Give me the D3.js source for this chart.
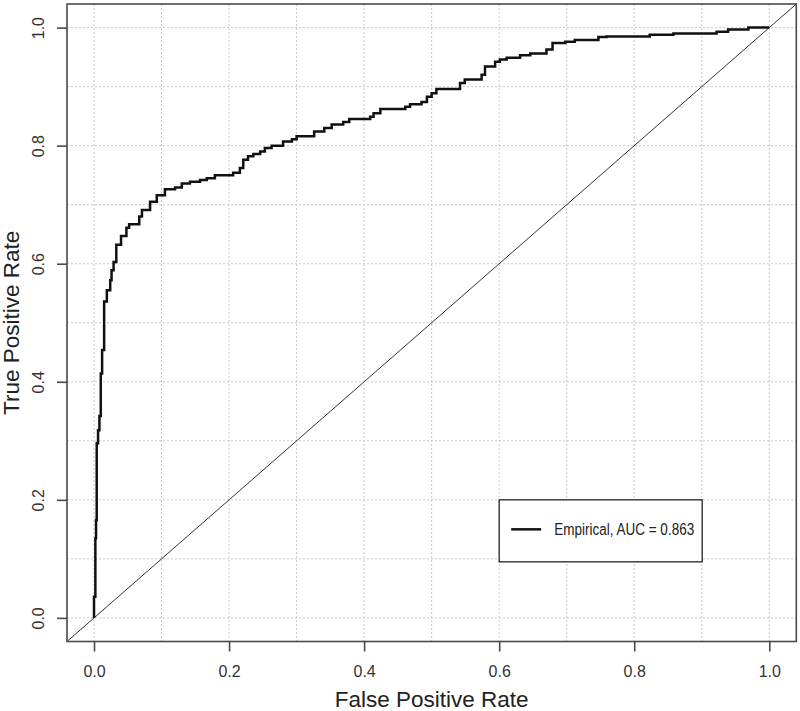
<!DOCTYPE html>
<html lang="en">
<head>
  <meta charset="UTF-8">
  <title>ROC curve</title>
  <script src="https://d3js.org/d3.v7.min.js"></script>
  <style>
    body { margin: 0; background: #fff; }
    text { font-family: "Liberation Sans", Arial, Helvetica, sans-serif; }
  </style>
</head>
<body>
<div id="chart"></div>
<script>

// empirical ROC corners: rise at fpr[i] up to tpr[i]
var fpr = [0, 0.000, 0.002, 0.003, 0.004, 0.006, 0.008, 0.010, 0.012, 0.015, 0.019, 0.024, 0.026,
  0.029, 0.033, 0.040, 0.048, 0.052, 0.067, 0.071, 0.083, 0.093, 0.105, 0.120, 0.130, 0.142, 0.157,
  0.167, 0.179, 0.206, 0.216, 0.221, 0.228, 0.236, 0.246, 0.253, 0.263, 0.280, 0.293, 0.300, 0.326,
  0.341, 0.352, 0.369, 0.378, 0.409, 0.414, 0.424, 0.461, 0.468, 0.485, 0.493, 0.500, 0.507, 0.542,
  0.549, 0.574, 0.579, 0.594, 0.601, 0.611, 0.631, 0.646, 0.670, 0.679, 0.698, 0.712, 0.747, 0.759,
  0.823, 0.858, 0.922, 0.939, 0.969, 1.000];
var tpr = [0, 0.036, 0.135, 0.166, 0.296, 0.318, 0.342, 0.414, 0.454, 0.536, 0.555, 0.572, 0.589,
  0.603, 0.632, 0.647, 0.661, 0.667, 0.680, 0.691, 0.705, 0.716, 0.726, 0.729, 0.736, 0.739, 0.742,
  0.745, 0.750, 0.754, 0.762, 0.776, 0.782, 0.786, 0.790, 0.796, 0.800, 0.807, 0.811, 0.816, 0.824,
  0.830, 0.836, 0.840, 0.845, 0.849, 0.855, 0.862, 0.866, 0.870, 0.874, 0.883, 0.889, 0.896, 0.906,
  0.912, 0.920, 0.934, 0.942, 0.946, 0.949, 0.953, 0.956, 0.963, 0.974, 0.976, 0.979, 0.984, 0.985,
  0.988, 0.990, 0.993, 0.997, 1.000, 1.000];

var tickValues = [0, 0.2, 0.4, 0.6, 0.8, 1.0];
var gridValues = [0, 0.1, 0.2, 0.3, 0.4, 0.5, 0.6, 0.7, 0.8, 0.9, 1.0];
var legendLabel = "Empirical, AUC = 0.863";

var W = 800, H = 711;
var box = {left: 67, right: 796.3, top: 4, bottom: 641.5};

var svg = d3.select("#chart")
  .append("svg")
    .attr("width", W)
    .attr("height", H);

var x = d3.scaleLinear().domain([-0.04, 1.04]).range([box.left, box.right]);
var y = d3.scaleLinear().domain([-0.04, 1.04]).range([box.bottom, box.top]);

// grid
var grid = svg.append("g")
  .attr("stroke", "#c8c8c8")
  .attr("stroke-width", 1)
  .attr("stroke-dasharray", "2,2");
grid.selectAll(".gx").data(gridValues).enter().append("line")
  .attr("x1", function(d) { return x(d); })
  .attr("x2", function(d) { return x(d); })
  .attr("y1", box.top).attr("y2", box.bottom);
grid.selectAll(".gy").data(gridValues).enter().append("line")
  .attr("y1", function(d) { return y(d); })
  .attr("y2", function(d) { return y(d); })
  .attr("x1", box.left).attr("x2", box.right);

// diagonal abline(0,1)
svg.append("line")
  .attr("x1", x(x.domain()[0])).attr("y1", y(x.domain()[0]))
  .attr("x2", x(x.domain()[1])).attr("y2", y(x.domain()[1]))
  .attr("stroke", "#333")
  .attr("stroke-width", 1);

// roc curve
var pts = fpr.map(function(d, i) { return [d, tpr[i]]; });
var line = d3.line()
  .x(function(d) { return x(d[0]); })
  .y(function(d) { return y(d[1]); })
  .curve(d3.curveStepAfter);
svg.append("path")
  .datum(pts)
  .attr("d", line)
  .attr("fill", "none")
  .attr("stroke", "#111")
  .attr("stroke-width", 2.5);

// frame
svg.append("rect")
  .attr("x", box.left).attr("y", box.top)
  .attr("width", box.right - box.left)
  .attr("height", box.bottom - box.top)
  .attr("fill", "none")
  .attr("stroke", "#4a4a4a")
  .attr("stroke-width", 1.6);

// axes
var xAxis = svg.append("g")
  .attr("transform", "translate(0," + box.bottom + ")")
  .call(d3.axisBottom(x).tickValues(tickValues).tickSize(10).tickPadding(14).tickFormat(d3.format(".1f")));
var yAxis = svg.append("g")
  .attr("transform", "translate(" + box.left + ",0)")
  .call(d3.axisLeft(y).tickValues(tickValues).tickSize(10).tickFormat(d3.format(".1f")));

[xAxis, yAxis].forEach(function(a) {
  a.select(".domain").remove();
  a.selectAll("line").attr("stroke", "#4a4a4a").attr("stroke-width", 1.6);
  a.selectAll("text").attr("font-size", 16).attr("fill", "#333")
    .style("font-family", "'Liberation Sans', Arial, sans-serif");
});

yAxis.selectAll("text")
  .attr("transform", "rotate(-90)")
  .attr("x", 0)
  .attr("y", -23)
  .attr("dy", 0)
  .attr("text-anchor", "middle");

// titles
svg.append("text")
  .attr("x", x(0.5)).attr("y", 707)
  .attr("text-anchor", "middle")
  .attr("font-size", 22.5)
  .attr("fill", "#222")
  .text("False Positive Rate");

svg.append("text")
  .attr("transform", "translate(18.5," + y(0.5) + ")rotate(-90)")
  .attr("text-anchor", "middle")
  .attr("font-size", 22.5)
  .attr("fill", "#222")
  .text("True Positive Rate");

// legend, top-left corner at (0.6, 0.2)
var lg = svg.append("g")
  .attr("transform", "translate(" + x(0.6) + "," + y(0.2) + ")");
lg.append("rect")
  .attr("width", 203).attr("height", 62)
  .attr("fill", "#fff")
  .attr("stroke", "#222")
  .attr("stroke-width", 1.3);
lg.append("line")
  .attr("x1", 12).attr("x2", 42)
  .attr("y1", 29.5).attr("y2", 29.5)
  .attr("stroke", "#111")
  .attr("stroke-width", 2.5);
lg.append("text")
  .attr("x", 55).attr("y", 35.5)
  .attr("font-size", 16)
  .attr("textLength", 140)
  .attr("lengthAdjust", "spacingAndGlyphs")
  .attr("fill", "#222")
  .text(legendLabel);

</script>
</body>
</html>
